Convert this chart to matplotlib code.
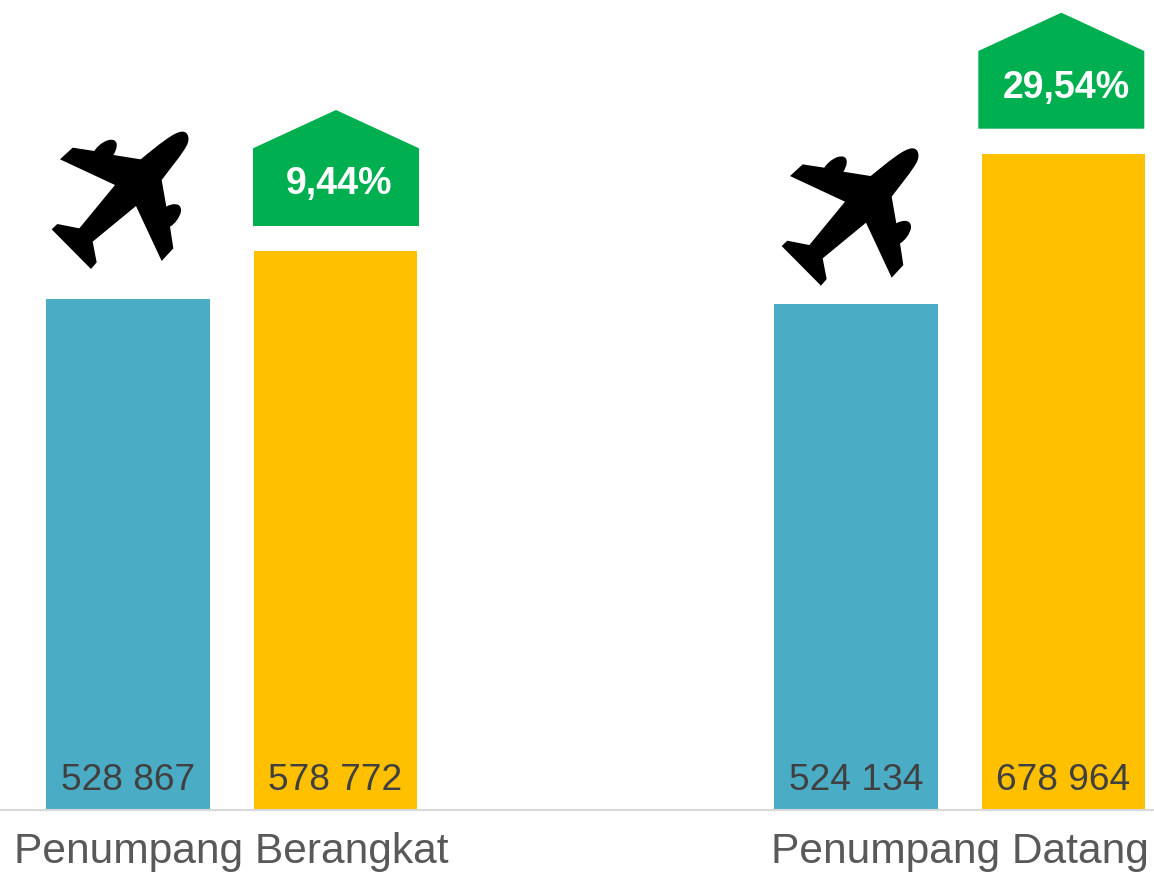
import matplotlib
matplotlib.use("Agg")
import matplotlib.pyplot as plt
from matplotlib.path import Path
from matplotlib.patches import PathPatch, Polygon

plt.rcParams["font.family"] = ["Liberation Sans", "DejaVu Sans"]

categories = ["Penumpang Berangkat", "Penumpang Datang"]
series_a = [528867, 524134]
series_b = [578772, 678964]
value_labels_a = ["528 867", "524 134"]
value_labels_b = ["578 772", "678 964"]
growth_labels = ["9,44%", "29,54%"]

TEAL = "#4BACC6"
GOLD = "#FFC000"
GREEN = "#00B050"

W, H = 1154, 872
AXIS_Y = 809.5  # baseline, in pixels from the top
BAR_W = 163.5 / 728
OFFSET = 207.5 / 2 / 728


def plane_path(dx, dy):
    # at 3x zoom, first plane
    M, L, C = Path.MOVETO, Path.LINETO, Path.CURVE4
    steps = [
        (M, (287, 103)),
        (C, (340, 60)), (C, (385, 22)), (C, (410, 20)),
        (C, (430, 18)), (C, (436, 42)), (C, (425, 62)),
        (C, (410, 90)), (C, (380, 125)), (C, (350, 165)),
        (L, (364, 245)),
        (C, (378, 236)), (C, (410, 230)), (C, (408, 258)),
        (C, (405, 278)), (C, (388, 298)), (C, (375, 305)),
        (L, (385, 370)), (L, (350, 408)), (L, (273, 243)),
        (L, (143, 350)), (L, (155, 412)), (L, (138, 432)),
        (L, (20, 313)), (L, (37, 297)), (L, (103, 310)),
        (L, (210, 180)), (L, (45, 103)), (L, (83, 68)),
        (L, (148, 78)),
        (C, (160, 58)), (C, (188, 40)), (C, (205, 45)),
        (C, (222, 50)), (C, (215, 75)), (C, (205, 90)),
        (L, (287, 103)),
        (Path.CLOSEPOLY, (287, 103)),
    ]
    codes = [s[0] for s in steps]
    verts = [(45 + s[1][0] / 3 + dx, 125 + s[1][1] / 3 + dy) for s in steps]
    return Path(verts, codes)


fig = plt.figure(figsize=(W / 100, H / 100), dpi=100)
ax = fig.add_axes([0, (H - AXIS_Y) / H, 1, AXIS_Y / H])

x = [0, 1]
xa = [i - OFFSET for i in x]
xb = [i + OFFSET for i in x]
ax.bar(xa, series_a, width=BAR_W, color=TEAL)
ax.bar(xb, series_b, width=BAR_W, color=GOLD)

for xs, labels in ((xa, value_labels_a), (xb, value_labels_b)):
    for xi, lab in zip(xs, labels):
        ax.annotate(lab, (xi, 0), xytext=(0, 14), textcoords="offset points",
                    ha="center", va="baseline", fontsize=26.7, color="#404040")

ax.set_xlim(-231.75 / 728, -231.75 / 728 + W / 728)
ax.set_ylim(0, AXIS_Y / 0.000965)
ax.set_xticks(x)
ax.set_xticklabels(categories, fontsize=30.6, color="#595959")
ax.tick_params(axis="x", length=0, pad=16.5)
ax.set_yticks([])
for s in ["top", "left", "right"]:
    ax.spines[s].set_visible(False)
ax.spines["bottom"].set_color("#D9D9D9")
ax.spines["bottom"].set_linewidth(1.5)

# overlay in pixel units for the arrows and plane icons
over = fig.add_axes([0, 0, 1, 1])
over.set_xlim(0, W)
over.set_ylim(H, 0)
over.axis("off")

for left, top in ((253, 110), (978.3, 12.7)):
    over.add_patch(Polygon(
        [(left, top + 38.3), (left + 83, top), (left + 166, top + 38.3),
         (left + 166, top + 116), (left, top + 116)],
        closed=True, facecolor=GREEN, edgecolor="none"))
for (text_x, base), lab in zip(((339, 194), (1066.5, 97.5)), growth_labels):
    over.text(text_x, base, lab, ha="center", va="baseline", fontsize=27,
              fontweight="bold", color="white")

over.add_patch(PathPatch(plane_path(0, 0), facecolor="black", edgecolor="none"))
over.add_patch(PathPatch(plane_path(730, 16.7), facecolor="black", edgecolor="none"))

fig.savefig("out.png", dpi=100)
